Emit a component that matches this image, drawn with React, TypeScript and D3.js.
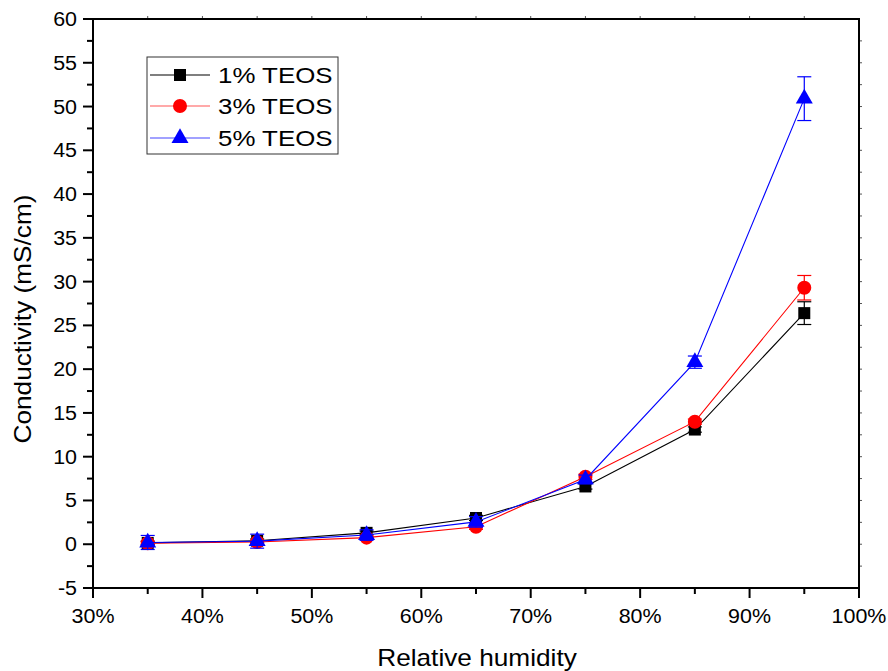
import React from "react";
import * as d3 from "d3";

// Relative humidity (%) at which conductivity was measured
const humidity = [35, 45, 55, 65, 75, 85, 95];

// Conductivity (mS/cm) and standard deviation per TEOS content
const teos1 = [0.15, 0.4, 1.3, 3.0, 6.6, 13.1, 26.4];
const teos1Err = [0.2, 0.2, 0.2, 0.3, 0.3, 0.3, 1.3];
const teos3 = [0.12, 0.25, 0.75, 2.0, 7.7, 14.0, 29.3];
const teos3Err = [0.2, 0.2, 0.2, 0.3, 0.3, 0.3, 1.4];
const teos5 = [0.2, 0.35, 1.05, 2.55, 7.4, 20.8, 50.9];
const teos5Err = [0.8, 0.8, 0.6, 0.6, 0.5, 0.7, 2.5];

const seriesNames = ["1% TEOS", "3% TEOS", "5% TEOS"];

const xTicks = [30, 40, 50, 60, 70, 80, 90, 100];
const yTicks = [-5, 0, 5, 10, 15, 20, 25, 30, 35, 40, 45, 50, 55, 60];

const W = 888;
const H = 671;
const left = 93;
const right = 859;
const top = 19;
const bottom = 588;

const FONT = "Liberation Sans, Arial, Helvetica, sans-serif";

const x = d3.scaleLinear().domain([30, 100]).range([left, right]);
const y = d3.scaleLinear().domain([-5, 60]).range([bottom, top]);

type Series = {
  name: string;
  values: number[];
  errs: number[];
  color: string;
  legendLine: string;
  symbol: d3.SymbolType;
  size: number;
};

const series: Series[] = [
  { name: seriesNames[0], values: teos1, errs: teos1Err, color: "#000000", legendLine: "#000000", symbol: d3.symbolSquare, size: 144 },
  { name: seriesNames[1], values: teos3, errs: teos3Err, color: "#ff0000", legendLine: "#ff5555", symbol: d3.symbolCircle, size: 154 },
  { name: seriesNames[2], values: teos5, errs: teos5Err, color: "#0000ff", legendLine: "#4444ff", symbol: d3.symbolTriangle, size: 125 },
];

function Label(props: {
  x: number;
  y: number;
  size: number;
  stretch: number;
  anchor?: "start" | "middle" | "end";
  rotate?: number;
  children: React.ReactNode;
}) {
  const { x: tx, y: ty, size, stretch, anchor = "start", rotate = 0, children } = props;
  return (
    <text
      transform={`translate(${tx},${ty}) rotate(${rotate}) scale(${stretch},1)`}
      fontFamily={FONT}
      fontSize={size}
      textAnchor={anchor}
      fill="#000"
    >
      {children}
    </text>
  );
}

export default function App() {
  const line = d3
    .line<number>()
    .x((_, i) => x(humidity[i]))
    .y((v) => y(v));

  const minorX = d3.range(35, 100, 10);
  const minorY = d3.range(-2.5, 60, 5);
  const topTicks = d3.range(35, 100, 5);
  const rightTicks = d3.range(-2.5, 60, 2.5);

  const legendX = 147;
  const legendY = 57;
  const legendRows = [75, 106, 138];

  return (
    <svg
      width={W}
      height={H}
      viewBox={`0 0 ${W} ${H}`}
      style={{ position: "absolute", left: 0, top: 0, background: "#fff" }}
    >
      <rect x={0} y={0} width={W} height={H} fill="#fff" />

      {/* series: line, error bars, markers */}
      {series.map((s) => (
        <g key={s.name}>
          <path d={line(s.values) ?? ""} fill="none" stroke={s.color} strokeWidth={1.1} />
          {s.values.map((v, i) => {
            const cx = x(humidity[i]);
            const y1 = y(v + s.errs[i]);
            const y2 = y(v - s.errs[i]);
            return (
              <g key={i} stroke={s.color} strokeWidth={1.2}>
                <line x1={cx} x2={cx} y1={y1} y2={y2} />
                <line x1={cx - 7} x2={cx + 7} y1={y1} y2={y1} />
                <line x1={cx - 7} x2={cx + 7} y1={y2} y2={y2} />
              </g>
            );
          })}
          {s.values.map((v, i) => (
            <path
              key={`m${i}`}
              transform={`translate(${x(humidity[i])},${y(v)})`}
              d={d3.symbol(s.symbol, s.size)() ?? ""}
              fill={s.color}
            />
          ))}
        </g>
      ))}

      {/* frame */}
      <g stroke="#000" strokeWidth={2} fill="none">
        <line x1={left} x2={right} y1={top} y2={top} />
        <line x1={right} x2={right} y1={top - 1} y2={bottom + 1} />
        <line x1={left} x2={left} y1={top - 1} y2={bottom + 1} />
        <line x1={left - 1} x2={right + 1} y1={bottom} y2={bottom} />
      </g>

      {/* top and right axis ticks */}
      <g stroke="#555" strokeWidth={1}>
        {topTicks.map((t) => (
          <line key={t} x1={x(t)} x2={x(t)} y1={top - 1} y2={top - 3} />
        ))}
        {rightTicks.map((t) => (
          <line key={t} x1={right + 1} x2={right + 3} y1={y(t)} y2={y(t)} />
        ))}
      </g>

      {/* bottom axis */}
      <g stroke="#000" strokeWidth={2}>
        {xTicks.map((t) => (
          <line key={t} x1={x(t)} x2={x(t)} y1={bottom} y2={bottom + 10} />
        ))}
        {minorX.map((t) => (
          <line key={t} x1={x(t)} x2={x(t)} y1={bottom} y2={bottom + 6} />
        ))}
      </g>
      {xTicks.map((t) => (
        <Label key={t} x={x(t)} y={623} size={19.5} stretch={1.1} anchor="middle">
          {`${t}%`}
        </Label>
      ))}

      {/* left axis */}
      <g stroke="#000" strokeWidth={2}>
        {yTicks.map((t) => (
          <line key={t} x1={left - 10} x2={left} y1={y(t)} y2={y(t)} />
        ))}
        {minorY.map((t) => (
          <line key={t} x1={left - 6} x2={left} y1={y(t)} y2={y(t)} />
        ))}
      </g>
      {yTicks.map((t) => (
        <Label key={t} x={77} y={y(t) + 7} size={19.5} stretch={1.1} anchor="end">
          {`${t}`}
        </Label>
      ))}

      {/* axis titles */}
      <Label x={477} y={666} size={23} stretch={1.14} anchor="middle">
        Relative humidity
      </Label>
      <Label x={31} y={319} size={23} stretch={1.14} anchor="middle" rotate={-90}>
        Conductivity (mS/cm)
      </Label>

      {/* legend */}
      <rect
        x={legendX}
        y={legendY}
        width={191}
        height={97}
        fill="#fff"
        stroke="#333"
        strokeWidth={1}
      />
      {series.map((s, i) => (
        <g key={s.name}>
          <line x1={150} x2={210} y1={legendRows[i]} y2={legendRows[i]} stroke={s.legendLine} strokeWidth={1.1} />
          <path
            transform={`translate(180,${legendRows[i]})`}
            d={d3.symbol(s.symbol, s.size)() ?? ""}
            fill={s.color}
          />
          <Label x={218} y={legendRows[i] + 8} size={22.5} stretch={1.15} anchor="start">
            {s.name}
          </Label>
        </g>
      ))}
    </svg>
  );
}
